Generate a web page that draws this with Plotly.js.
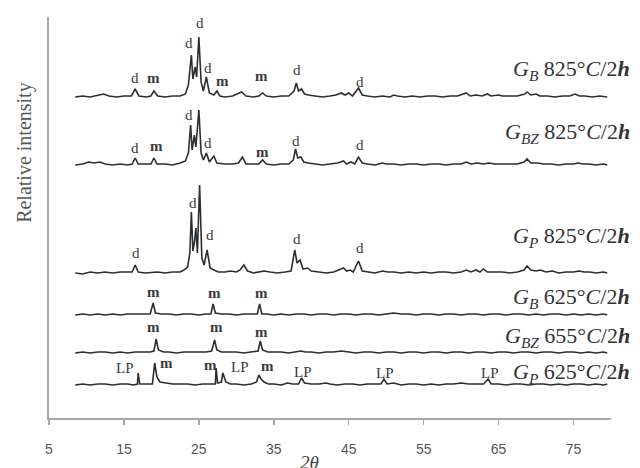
<!DOCTYPE html>
<html>
<head>
<meta charset="utf-8">
<script src="https://cdn.plot.ly/plotly-3.0.1.min.js"></script>
<style>html,body{margin:0;padding:0;background:#fff;}#chart{width:640px;height:468px;}</style>
</head>
<body>
<div id="chart"></div>
<script>
// 2θ (deg) and relative intensity (arbitrary units above each pattern's own baseline)
const gB825 = [[8.5,0],[9.5,1],[10.5,0],[11.5,2],[12.3,3],[13,1],[14,0],[15,1],[16,1],[16.5,8],[17,1],[18,0],[18.6,1],[19,6],[19.5,1],[20.5,0],[21.5,1],[22.5,1],[23.2,3],[23.6,12],[24,42],[24.2,18],[24.5,30],[24.7,20],[25,60],[25.3,15],[25.6,6],[26,20],[26.4,4],[27,2],[27.4,6],[27.8,1],[28.5,0],[29.5,1],[30.2,3],[30.7,5],[31.3,1],[32.3,0],[33,1],[33.5,4],[34,1],[35,0],[36,1],[37,1],[37.7,6],[38,14],[38.3,6],[38.7,8],[39.1,3],[39.6,2],[40.5,1],[41.5,0],[42.5,1],[43.3,2],[44,4],[44.5,2],[45,4],[45.5,1],[46.3,9],[46.8,2],[47.5,1],[48.5,0],[49.5,1],[50.5,0],[51,2],[51.5,1],[52.5,0],[53.5,1],[54.5,0],[55.5,1],[56.5,1],[57.5,0],[58.5,1],[59.5,1],[60.7,4],[61.2,1],[62,2],[62.8,1],[63.5,3],[64,1],[65,2],[65.5,1],[66.5,1],[67.5,1],[68.5,3],[68.8,5],[69.3,2],[70,3],[70.5,1],[71.5,1],[72.5,0],[73.5,1],[74.5,1],[75.2,3],[75.8,1],[76.5,1],[77.5,0],[78.5,1],[79.5,0]];
const gBZ825 = [[8.5,0],[9.5,1],[10.3,3],[11,2],[11.8,3],[12.5,1],[13.5,0],[14.5,1],[15.5,0],[16.1,1],[16.5,7],[16.9,1],[18,1],[18.6,1],[19,7],[19.4,1],[20.5,1],[21.5,0],[22.5,2],[23.2,4],[23.6,12],[23.9,40],[24.1,15],[24.4,30],[24.6,18],[25,55],[25.3,12],[25.6,5],[26,12],[26.4,3],[27,9],[27.4,2],[28.5,1],[29.5,1],[30.3,2],[30.8,8],[31.3,1],[32.3,1],[33,1],[33.5,5],[34,1],[35,0],[36,1],[37,1],[37.6,5],[37.9,16],[38.2,7],[38.6,8],[39,3],[39.6,2],[40.5,1],[41.5,0],[42.5,1],[43.5,2],[44.3,4],[44.7,1],[45.3,3],[45.8,1],[46.3,8],[46.8,2],[47.5,1],[48.5,0],[49.5,2],[50,1],[51,1],[52,0],[53,1],[54,1],[55,0],[56,1],[57,1],[58,0],[59,1],[60,1],[60.7,3],[61.3,1],[62.2,2],[63,1],[63.7,2],[64.5,1],[65.5,1],[66.5,1],[67.5,1],[68.4,3],[68.8,6],[69.3,2],[70.2,2],[71,1],[72,1],[73,0],[74,1],[75,1],[75.6,2],[76.3,1],[77,1],[78,0],[79,1],[79.5,0]];
const gP825 = [[8.5,0],[9.5,-1],[10.5,1],[11.5,0],[12.5,1],[13.5,0],[14.5,1],[15.5,1],[16.1,1],[16.5,8],[16.9,1],[17.8,0],[18.8,1],[19.5,1],[20.5,0],[21.5,1],[22.5,1],[23,3],[23.5,6],[23.8,20],[24,61],[24.2,22],[24.4,30],[24.6,45],[24.8,20],[25.1,88],[25.4,15],[25.7,8],[26.1,23],[26.5,5],[27,3],[27.6,1],[28.5,1],[29.2,2],[30,1],[30.5,3],[31,8],[31.5,2],[32.3,0],[33.2,1],[33.7,2],[34.5,1],[35.5,0],[36.5,1],[37.3,2],[37.8,23],[38.1,10],[38.5,13],[38.9,4],[39.5,5],[40,2],[41,1],[42,0],[43,1],[43.8,3],[44.3,5],[44.7,2],[45.2,3],[45.6,1],[46.3,12],[46.8,2],[47.5,1],[48.5,0],[49.5,2],[50.2,1],[51,1],[52,0],[53,1],[54,0],[55,1],[56,0],[57,1],[58,1],[59,0],[60,1],[60.7,3],[61.3,1],[62,3],[62.5,1],[63,4],[63.5,1],[64.5,1],[65.5,1],[66.5,0],[67.5,1],[68.4,3],[68.8,7],[69.3,3],[70,2],[70.6,3],[71.3,1],[72.2,2],[73,0],[74,1],[75,1],[75.7,2],[76.4,1],[77.2,1],[78,0],[79,1],[79.5,0]];
const gB625 = [[8.5,0],[9.5,1],[10.5,0],[11.5,1],[12.5,0],[13.5,1],[14.5,0],[15.5,1],[16.5,1],[17.5,1],[18.5,1],[18.9,12],[19.2,2],[20,1],[21,1],[22,0],[23,1],[24,1],[25,0],[26,1],[26.6,1],[26.9,11],[27.2,2],[28,1],[29,1],[30,0],[31,1],[32,1],[32.8,1],[33.1,11],[33.4,1],[34,1],[35,0],[36,1],[37,0],[38,1],[39,1],[40,0],[41,1],[42,1],[43,0],[44,1],[45,1],[46,0],[47,1],[48,1],[49,0],[50,1],[51,2],[52,1],[53,1],[54,0],[55,1],[56,1],[57,0],[58,1],[59,1],[60,0],[61,1],[62,1],[63,0],[64,1],[65,1],[66,0],[67,1],[68,1],[69,0],[70,1],[71,0],[72,1],[73,1],[74,0],[75,1],[76,0],[77,1],[78,0],[79,1],[79.5,0]];
const gBZ655 = [[8.5,0],[9.5,1],[10.5,0],[11.5,1],[12.5,1],[13.5,0],[14.5,1],[15.5,0],[16.5,1],[17.5,1],[18.5,1],[19,2],[19.3,14],[19.6,3],[20.3,1],[21,1],[22,0],[23,1],[24,1],[25,1],[26,1],[26.7,2],[27.1,13],[27.4,3],[28,1],[29,1],[30,1],[31,0],[32,1],[32.9,2],[33.2,12],[33.5,3],[34.2,1],[35,1],[36,1],[37,0],[38,1],[38.6,2],[39.2,1],[40,1],[41,0],[42,1],[43,1],[44,2],[45,1],[46,0],[47,1],[48,1],[49,0],[50,1],[51,1],[52,0],[53,1],[54,1],[55,0],[56,1],[57,1],[58,0],[59,1],[60,1],[61,0],[62,1],[63,1],[64,0],[65,1],[66,1],[67,0],[68,1],[69,1],[70,0],[71,1],[72,1],[73,0],[74,1],[75,1],[76,0],[77,1],[78,0],[79,1],[79.5,0]];
const gP625 = [[8.5,0],[9.5,1],[10.5,0],[11.5,1],[12.5,1],[13.5,0],[14.5,1],[15.5,1],[16.3,0],[16.8,1],[16.9,12],[17.1,1],[18,1],[18.8,1],[19.1,22],[19.4,8],[19.8,3],[20.5,2],[21.5,1],[22.5,1],[23.5,1],[24.5,0],[25.5,1],[26.5,1],[27.2,1],[27.3,17],[27.5,2],[28,3],[28.2,12],[28.6,3],[29.2,1],[30,1],[31,0],[32,1],[32.7,3],[33,10],[33.3,6],[33.7,3],[34.3,1],[35,1],[36,0],[36.8,2],[37.5,1],[38.3,1],[38.7,7],[39.1,2],[40,1],[41,1],[42,2],[42.5,1],[43.5,0],[44.5,1],[45.5,1],[46.5,0],[47.5,1],[48.5,1],[49.3,1],[49.7,6],[50.1,1],[51,2],[52,0],[53,1],[54,1],[55,0],[56,1],[57,0],[58,1],[59,1],[60,2],[61,1],[62,1],[63,1],[63.6,6],[64,1],[65,1],[66,0],[67,1],[68,1],[69,0],[70,1],[71,1],[72,0],[73,1],[74,0],[75,1],[76,1],[77,0],[78,1],[79,0],[79.5,1]];

const patterns = [gB825, gBZ825, gP825, gB625, gBZ655, gP625];
const sampleSub = ['B', 'BZ', 'P', 'B', 'BZ', 'P'];
const sampleTemp = ['825', '825', '825', '625', '655', '625'];
const stackOffsets = [321, 253, 145, 103, 65, 33];

// phase labels: d, m, LP  [pattern index, text, 2θ, intensity above baseline]
const phaseTrace = [0,0,0,0,0,0,0,0,0, 1,1,1,1,1,1,1, 2,2,2,2,2, 3,3,3, 4,4,4, 5,5,5,5,5,5,5,5];
const phaseText  = ['d','m','d','d','d','m','m','d','d', 'd','m','d','d','m','d','d', 'd','d','d','d','d', 'm','m','m', 'm','m','m', 'LP','m','m','LP','m','LP','LP','LP'];
const phaseX     = [16.5,19.0,23.7,25.1,26.2,28.1,33.4,38.1,46.5, 16.5,19.3,23.7,26.2,33.5,37.9,46.5, 16.6,24.2,26.5,38.1,46.5, 18.9,27.1,33.4, 18.9,27.4,33.4, 15.1,20.7,26.5,30.5,34.1,38.9,49.8,63.8];
const phaseH     = [19,19,54,74,29,16,21,27,15, 17,19,50,22,13,24,20, 20,70,38,34,25, 23,22,22, 26,26,21, 17,22,20,18,19,13,12,12];

const xTicks = [5, 15, 25, 35, 45, 55, 65, 75];

const traces = patterns.map((p, k) => ({
  x: p.map(v => v[0]),
  y: p.map(v => v[1] + stackOffsets[k]),
  type: 'scatter', mode: 'lines',
  line: {color: '#2e2e2e', width: 1.6},
  hoverinfo: 'skip', showlegend: false
}));

const serif = 'Liberation Serif, Times New Roman, serif';
const annotations = [];
phaseText.forEach((t, i) => {
  annotations.push({
    x: phaseX[i], y: stackOffsets[phaseTrace[i]] + phaseH[i],
    xref: 'x', yref: 'y', showarrow: false,
    text: t === 'm' ? '<b>m</b>' : t,
    xanchor: 'center', yanchor: 'middle',
    font: {family: serif, size: 15, color: '#3a3a3a'}
  });
});
sampleSub.forEach((s, k) => {
  annotations.push({
    x: 1.037, xref: 'paper', y: stackOffsets[k] + [27, 32, 36, 17, 16, 12][k], yref: 'y',
    showarrow: false, xanchor: 'right', yanchor: 'middle',
    text: '<i>G</i><sub><i>' + s + '</i></sub> ' + sampleTemp[k] + '°<i>C</i>/2<b><i>h</i></b>',
    font: {family: serif, size: 22, color: '#333333'}
  });
});
annotations.push({
  x: -0.045, xref: 'paper', y: 0.663, yref: 'paper', showarrow: false,
  text: 'Relative intensity', textangle: -90, xanchor: 'center', yanchor: 'middle',
  font: {family: serif, size: 20, color: '#555555'}
});
annotations.push({
  x: 0.464, xref: 'paper', y: -0.112, yref: 'paper', showarrow: false,
  text: '<i>2θ</i>', xanchor: 'center', yanchor: 'middle',
  font: {family: serif, size: 19, color: '#444444'}
});

const layout = {
  width: 640, height: 468,
  margin: {l: 49, r: 29, t: 17, b: 50, pad: 0},
  paper_bgcolor: '#ffffff', plot_bgcolor: '#ffffff',
  showlegend: false,
  xaxis: {
    range: [5, 80], tickvals: xTicks, ticktext: xTicks.map(String),
    showline: true, linecolor: '#a8a8a8', linewidth: 2,
    ticks: 'outside', ticklen: 5, tickwidth: 1.5, tickcolor: '#a8a8a8',
    ticklabelstandoff: 12,
    showgrid: false, zeroline: false,
    tickfont: {family: 'Liberation Sans, Arial, sans-serif', size: 14, color: '#555555'}
  },
  yaxis: {
    range: [0, 401], showline: true, linecolor: '#a8a8a8', linewidth: 2,
    showticklabels: false, ticks: '', showgrid: false, zeroline: false
  },
  annotations: annotations
};

Plotly.newPlot('chart', traces, layout, {staticPlot: true, displayModeBar: false});
</script>
</body>
</html>
